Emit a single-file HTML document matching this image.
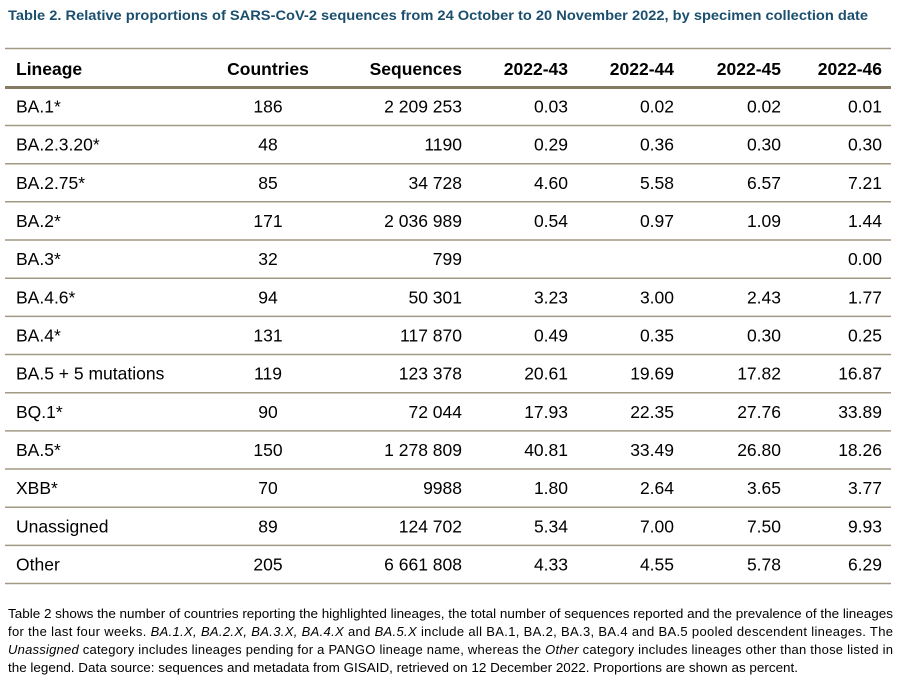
<!DOCTYPE html>
<html><head><meta charset="utf-8"><style>
html,body{margin:0;padding:0;background:#fff;width:901px;height:682px;overflow:hidden}
svg text{font-family:"Liberation Sans",Arial,sans-serif}
</style></head><body>
<svg width="901" height="682" viewBox="0 0 901 682" xmlns="http://www.w3.org/2000/svg">
<text x="8" y="20" font-size="14" font-weight="bold" fill="#1b4f6f" textLength="860" lengthAdjust="spacingAndGlyphs">Table 2. Relative proportions of SARS-CoV-2 sequences from 24 October to 20 November 2022, by specimen collection date</text>
<line x1="5" y1="48.5" x2="891" y2="48.5" stroke="#a39a86" stroke-width="1.5"/>
<line x1="5" y1="87.5" x2="891" y2="87.5" stroke="#857a62" stroke-width="3"/>
<g font-size="17.5" font-weight="bold" fill="#000">
<text x="16" y="75">Lineage</text>
<text x="268" y="75" text-anchor="middle">Countries</text>
<text x="462" y="75" text-anchor="end">Sequences</text>
<text x="568" y="75" text-anchor="end">2022-43</text>
<text x="674" y="75" text-anchor="end">2022-44</text>
<text x="781" y="75" text-anchor="end">2022-45</text>
<text x="882" y="75" text-anchor="end">2022-46</text>
</g>
<g id="rows" font-size="17.5" fill="#000"></g>
<g id="lines" stroke="#a39a86" stroke-width="1.5"></g>
<g font-size="13" fill="#000">
<text x="8" y="618" textLength="885" lengthAdjust="spacingAndGlyphs">Table 2 shows the number of countries reporting the highlighted lineages, the total number of sequences reported and the prevalence of the lineages</text>
<text x="8" y="636" textLength="885" lengthAdjust="spacing">for the last four weeks. <tspan font-style="italic">BA.1.X, BA.2.X, BA.3.X, BA.4.X</tspan> and <tspan font-style="italic">BA.5.X</tspan> include all BA.1, BA.2, BA.3, BA.4 and BA.5 pooled descendent lineages. The</text>
<text x="8" y="654" textLength="885" lengthAdjust="spacing"><tspan font-style="italic">Unassigned</tspan> category includes lineages pending for a PANGO lineage name, whereas the <tspan font-style="italic">Other</tspan> category includes lineages other than those listed in</text>
<text x="8" y="672" textLength="790" lengthAdjust="spacingAndGlyphs">the legend. Data source: sequences and metadata from GISAID, retrieved on 12 December 2022. Proportions are shown as percent.</text>
</g>
<script>
var d=[["BA.1*","186","2 209 253","0.03","0.02","0.02","0.01"],
["BA.2.3.20*","48","1190","0.29","0.36","0.30","0.30"],
["BA.2.75*","85","34 728","4.60","5.58","6.57","7.21"],
["BA.2*","171","2 036 989","0.54","0.97","1.09","1.44"],
["BA.3*","32","799","","","","0.00"],
["BA.4.6*","94","50 301","3.23","3.00","2.43","1.77"],
["BA.4*","131","117 870","0.49","0.35","0.30","0.25"],
["BA.5 + 5 mutations","119","123 378","20.61","19.69","17.82","16.87"],
["BQ.1*","90","72 044","17.93","22.35","27.76","33.89"],
["BA.5*","150","1 278 809","40.81","33.49","26.80","18.26"],
["XBB*","70","9988","1.80","2.64","3.65","3.77"],
["Unassigned","89","124 702","5.34","7.00","7.50","9.93"],
["Other","205","6 661 808","4.33","4.55","5.78","6.29"]];
var ns="http://www.w3.org/2000/svg",g=document.getElementById("rows"),L=document.getElementById("lines");
var xs=[16,268,462,568,674,781,882],an=["start","middle","end","end","end","end","end"];
d.forEach(function(r,i){var y=112.5+i*38.17;
r.forEach(function(c,j){var t=document.createElementNS(ns,"text");t.setAttribute("x",xs[j]);t.setAttribute("y",y.toFixed(1));t.setAttribute("text-anchor",an[j]);t.textContent=c;g.appendChild(t);});
var l=document.createElementNS(ns,"line");var ly=(125.5+i*38.17).toFixed(1);l.setAttribute("x1",5);l.setAttribute("x2",891);l.setAttribute("y1",ly);l.setAttribute("y2",ly);L.appendChild(l);});
</script>
</svg>
</body></html>
